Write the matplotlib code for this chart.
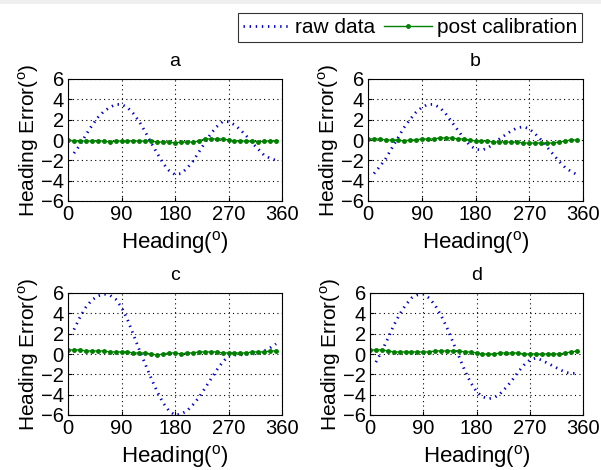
import numpy as np
import matplotlib
matplotlib.use("Agg")
import matplotlib.pyplot as plt
from matplotlib.patches import Rectangle

plt.rcParams['font.family'] = ['Liberation Sans', 'DejaVu Sans']
plt.rcParams['mathtext.fontset'] = 'custom'
plt.rcParams['mathtext.rm'] = 'Liberation Sans'

heading_raw = list(range(10, 360, 10))
heading_cal = list(range(0, 360, 10))

raw_a = [-1.3, -0.5, 0.5, 1.4, 2.2, 2.8, 3.2, 3.5, 3.5, 3.2, 2.6, 1.8, 0.8, -0.3, -1.3, -2.3, -3.0, -3.4,
         -3.3, -2.8, -2.1, -1.2, -0.3, 0.6, 1.3, 1.8, 1.8, 1.5, 1.0, 0.4, -0.3, -0.9, -1.5, -1.8, -2.0]
raw_b = [-3.3, -2.6, -1.8, -0.8, 0.2, 1.2, 2.0, 2.7, 3.2, 3.5, 3.5, 3.2, 2.6, 1.8, 1.0, 0.2, -0.5, -0.9,
         -1.0, -0.8, -0.4, 0.1, 0.5, 0.9, 1.2, 1.3, 1.1, 0.6, 0.0, -0.7, -1.4, -2.1, -2.7, -3.1, -3.4]
raw_c = [2.4, 3.6, 4.6, 5.3, 5.7, 5.9, 5.8, 5.4, 4.6, 3.4, 1.9, 0.4, -1.0, -2.4, -3.7, -4.8, -5.6, -6.0,
         -5.9, -5.6, -5.0, -4.3, -3.4, -2.5, -1.6, -0.8, -0.2, -0.1, -0.1, 0.0, 0.0, 0.1, 0.3, 0.6, 1.0]
raw_d = [-0.8, 0.3, 1.5, 2.8, 3.9, 4.8, 5.5, 5.8, 5.9, 5.5, 4.8, 3.8, 2.6, 1.2, -0.2, -1.6, -2.8, -3.7,
         -4.2, -4.4, -4.3, -3.9, -3.3, -2.6, -1.8, -1.1, -0.6, -0.4, -0.6, -0.9, -1.2, -1.5, -1.8, -1.9, -1.9]

cal_a = [0.0, -0.1, -0.1, -0.1, -0.1, -0.1, -0.1, -0.2, -0.1, -0.1, -0.1, -0.1, -0.1, -0.1, -0.1, -0.2, -0.2, -0.2,
         -0.3, -0.2, -0.2, -0.2, -0.1, 0.1, 0.1, 0.1, 0.1, 0.0, -0.1, -0.1, -0.1, -0.1, -0.2, -0.1, -0.1, -0.1]
cal_b = [0.1, 0.1, 0.1, 0.0, 0.0, 0.0, -0.1, 0.0, 0.0, 0.1, 0.1, 0.1, 0.2, 0.2, 0.2, 0.1, 0.1, 0.0,
         -0.1, -0.1, -0.1, -0.2, -0.2, -0.2, -0.2, -0.2, -0.3, -0.3, -0.3, -0.3, -0.3, -0.3, -0.2, -0.1, 0.0, 0.0]
cal_c = [0.4, 0.4, 0.4, 0.3, 0.3, 0.3, 0.3, 0.2, 0.2, 0.2, 0.2, 0.1, 0.1, 0.1, 0.0, -0.1, 0.0, 0.1,
         0.1, 0.0, 0.1, 0.1, 0.2, 0.2, 0.2, 0.2, 0.1, 0.1, 0.1, 0.1, 0.1, 0.2, 0.2, 0.2, 0.3, 0.3]
cal_d = [0.4, 0.4, 0.4, 0.3, 0.2, 0.2, 0.2, 0.2, 0.2, 0.2, 0.2, 0.3, 0.3, 0.3, 0.3, 0.3, 0.2, 0.2,
         0.1, 0.0, 0.0, 0.0, 0.1, 0.1, 0.1, 0.1, 0.0, 0.0, 0.0, 0.0, 0.0, 0.0, 0.0, 0.1, 0.2, 0.3]

titles = ['a', 'b', 'c', 'd']
raw_series = [raw_a, raw_b, raw_c, raw_d]
cal_series = [cal_a, cal_b, cal_c, cal_d]
xticks = [0, 90, 180, 270, 360]
yticks = [-6, -4, -2, 0, 2, 4, 6]

W, H = 601, 470
fig = plt.figure(figsize=(W / 100, H / 100), dpi=100)
fig.patch.set_facecolor('white')
fig.patches.append(Rectangle((0, 1 - 4 / H), 1, 4 / H, transform=fig.transFigure,
                             facecolor='#efefef', edgecolor='none', zorder=-1))

boxes = [(68, 79, 282, 201), (368, 79, 583, 201), (68, 293, 282, 415), (370, 293, 583, 415)]
blue = (0.0, 0.0, 0.8)
green = (0.0, 0.5, 0.0)
axes = []
for i, (l, t, r, b) in enumerate(boxes):
    ax = fig.add_axes([l / W, 1 - b / H, (r - l) / W, (b - t) / H])
    axes.append(ax)
    l1, = ax.plot(heading_raw, raw_series[i], color=blue, linestyle=(0, (0.5, 1.7)), linewidth=2.0,
                  label='raw data')
    l2, = ax.plot(heading_cal, cal_series[i], color=green, linewidth=1.0, marker='.', markersize=5,
                  label='post calibration')
    ax.set_xlim(0, 360)
    ax.set_ylim(-6, 6)
    ax.set_xticks(xticks)
    ax.set_yticks(yticks)
    ax.tick_params(direction='in', labelsize=14.5, length=3, pad=3)
    ax.grid(True, linestyle=(0, (1, 3)), color='black', linewidth=0.8)
    ax.set_title(titles[i], fontsize=14, pad=9)
    ax.set_xlabel('Heading($^{\\mathrm{o}}$)', fontsize=16, labelpad=3.5)
    ax.set_ylabel('Heading Error($^{\\mathrm{o}}$)', fontsize=15, labelpad=0)
    for s in ax.spines.values():
        s.set_linewidth(0.8)

leg = fig.legend(handles=[l1, l2], loc='upper right', bbox_to_anchor=(582 / W, 1 - 13 / H), ncol=2,
                 fontsize=15, frameon=True, fancybox=False, edgecolor='black', borderpad=0.25,
                 handlelength=2.3, columnspacing=0.45, handletextpad=0.2, borderaxespad=0)
leg.get_frame().set_linewidth(0.8)

fig.savefig('out.png', dpi=100)
